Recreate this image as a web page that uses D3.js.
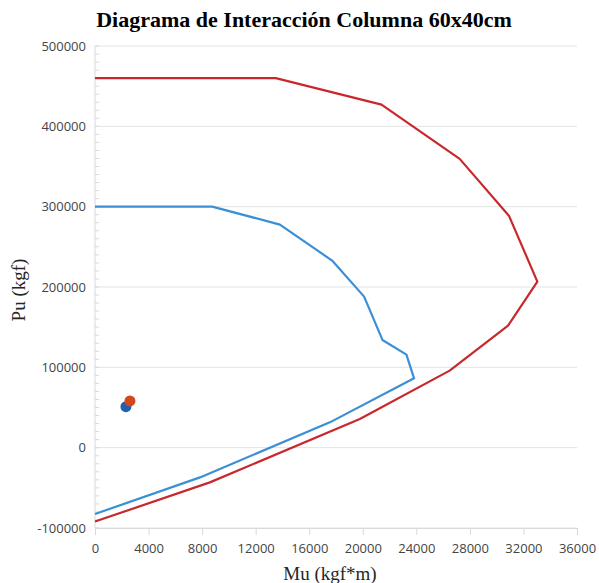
<!DOCTYPE html>
<html>
<head>
<meta charset="utf-8">
<script src="https://cdn.jsdelivr.net/npm/d3@7"></script>
<style>
  body { margin: 0; background: #fff; }
</style>
</head>
<body>
<svg id="chart" width="599" height="583"></svg>
<script>
// red curve (outer)
var redMu = [0, 13500, 21400, 27240, 30930, 33040, 30850, 26490, 19780, 8580, 0];
var redPu = [460000, 460000, 427000, 359500, 288300, 206700, 151900, 95900, 35700, -43200, -92000];
// blue curve (inner)
var blueMu = [0, 8750, 13810, 17710, 20100, 21470, 23260, 23830, 17540, 7840, 0];
var bluePu = [300000, 300000, 277700, 232900, 188000, 134100, 115800, 86300, 31500, -37000, -82600];
// load points
var pointMu = [2310, 2610];
var pointPu = [51000, 58200];
var pointColor = ["#1f5fae", "#d2481a"];

var xTicks = [0, 4000, 8000, 12000, 16000, 20000, 24000, 28000, 32000, 36000];
var yTicks = [-100000, 0, 100000, 200000, 300000, 400000, 500000];

var svg = d3.select("#chart");

var x = d3.scaleLinear().domain([0, 36000]).range([95, 577]);
var y = d3.scaleLinear().domain([-100000, 500000]).range([528, 46]);

// horizontal grid
svg.selectAll(".grid")
    .data(yTicks)
    .enter()
    .append("line")
    .attr("x1", x(0))
    .attr("x2", x(36000))
    .attr("y1", function(d) { return y(d); })
    .attr("y2", function(d) { return y(d); })
    .attr("stroke", "#e3e3e3")
    .attr("stroke-width", 1);

// minor ticks on y axis
var minor = d3.range(-100000, 500001, 10000);
svg.selectAll(".minor")
    .data(minor)
    .enter()
    .append("line")
    .attr("x1", x(0))
    .attr("x2", x(0) + 4)
    .attr("y1", function(d) { return y(d); })
    .attr("y2", function(d) { return y(d); })
    .attr("stroke", "#d9d9d9");

// left axis line
svg.append("line")
    .attr("x1", x(0)).attr("x2", x(0))
    .attr("y1", y(500000)).attr("y2", y(-100000))
    .attr("stroke", "#d9d9d9");

// x axis
var xAxis = d3.axisBottom(x).tickValues(xTicks).tickSize(7).tickPadding(9)
    .tickFormat(function(d) { return d; });
var gx = svg.append("g")
    .attr("transform", "translate(0," + y(-100000) + ")")
    .call(xAxis);
gx.select(".domain").attr("stroke", "#d9d9d9");
gx.selectAll(".tick line").attr("stroke", "#d9d9d9");
gx.selectAll("text")
    .attr("fill", "#444")
    .attr("font-family", "Open Sans, sans-serif")
    .attr("font-size", "13px");

// y axis labels
var yAxis = d3.axisLeft(y).tickValues(yTicks).tickSize(0).tickPadding(9)
    .tickFormat(function(d) { return d; });
var gy = svg.append("g")
    .attr("transform", "translate(" + x(0) + ",0)")
    .call(yAxis);
gy.select(".domain").remove();
gy.selectAll("text")
    .attr("fill", "#444")
    .attr("font-family", "Open Sans, sans-serif")
    .attr("font-size", "13px");

var line = d3.line()
    .x(function(d) { return x(d[0]); })
    .y(function(d) { return y(d[1]); });

svg.append("path")
    .datum(redMu.map(function(m, i) { return [m, redPu[i]]; }))
    .attr("d", line)
    .attr("fill", "none")
    .attr("stroke", "#c8282c")
    .attr("stroke-width", 2.2)
    .attr("stroke-linejoin", "round");

svg.append("path")
    .datum(blueMu.map(function(m, i) { return [m, bluePu[i]]; }))
    .attr("d", line)
    .attr("fill", "none")
    .attr("stroke", "#3a8fd6")
    .attr("stroke-width", 2.2)
    .attr("stroke-linejoin", "round");

svg.selectAll(".pt")
    .data(pointMu)
    .enter()
    .append("circle")
    .attr("cx", function(d) { return x(d); })
    .attr("cy", function(d, i) { return y(pointPu[i]); })
    .attr("r", 5.5)
    .attr("fill", function(d, i) { return pointColor[i]; });

// title
svg.append("text")
    .attr("x", 304)
    .attr("y", 27)
    .attr("text-anchor", "middle")
    .attr("font-family", "Liberation Serif, Times New Roman, serif")
    .attr("font-weight", "bold")
    .attr("font-size", "22px")
    .attr("fill", "#000")
    .text("Diagrama de Interacción Columna 60x40cm");

// axis titles
svg.append("text")
    .attr("transform", "translate(25,290) rotate(-90)")
    .attr("text-anchor", "middle")
    .attr("font-family", "Liberation Serif, Times New Roman, serif")
    .attr("font-size", "19px")
    .attr("fill", "#262626")
    .text("Pu (kgf)");

svg.append("text")
    .attr("x", 330)
    .attr("y", 580)
    .attr("text-anchor", "middle")
    .attr("font-family", "Liberation Serif, Times New Roman, serif")
    .attr("font-size", "19px")
    .attr("fill", "#262626")
    .text("Mu (kgf*m)");
</script>
</body>
</html>
